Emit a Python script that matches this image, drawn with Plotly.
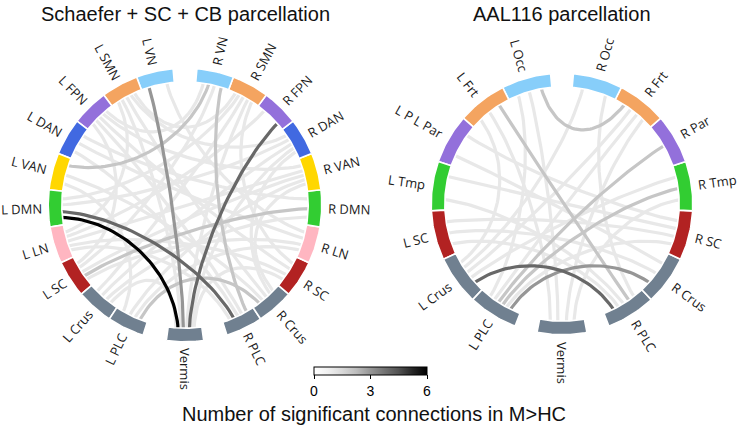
import math
import plotly.graph_objects as go

W, H = 744, 427

# ---------------- data ----------------
schaefer_nodes = ["L VN", "L SMN", "L FPN", "L DAN", "L VAN", "L DMN", "L LN", "L SC",
                  "L Crus", "L PLC", "Vermis", "R PLC", "R Crus", "R SC", "R LN",
                  "R DMN", "R VAN", "R DAN", "R FPN", "R SMN", "R VN"]
schaefer_from = ["L DMN", "L DMN", "R FPN", "L VN", "L VAN", "R VN", "R DMN", "L PLC",
                 "L SMN", "L SMN", "L SMN", "L SMN", "L FPN", "L FPN", "L FPN", "L DAN",
                 "L DAN", "L DAN", "L VAN", "L VAN", "L DMN", "L DMN", "L LN", "L LN",
                 "L LN", "L SC", "L SC", "L Crus", "L Crus", "L Crus", "L PLC", "L PLC",
                 "Vermis", "Vermis", "Vermis", "R PLC", "R PLC", "R Crus", "R SC", "R LN",
                 "R DMN", "R DAN", "R VAN", "R SMN", "R VN"]
schaefer_to = ["Vermis", "R PLC", "Vermis", "Vermis", "R VN", "R PLC", "L SC", "R Crus",
               "R DAN", "L LN", "R Crus", "R SMN", "R VAN", "R SC", "L SC", "R DMN",
               "R LN", "R PLC", "R Crus", "L PLC", "R DAN", "R SMN", "R FPN", "R VAN",
               "R SC", "R VN", "R LN", "R DAN", "R SMN", "Vermis", "R VAN", "R LN",
               "R DAN", "R SC", "L SMN", "L FPN", "L LN", "R VAN", "R SMN", "L VN",
               "L Crus", "R Crus", "L SC", "Vermis", "L FPN"]
schaefer_count = [6, 4, 4, 3, 2, 2, 2, 2,
                  1, 1, 1, 1, 1, 1, 1, 1,
                  1, 1, 1, 1, 1, 1, 1, 1,
                  1, 1, 1, 1, 1, 1, 1, 1,
                  1, 1, 1, 1, 1, 1, 1, 1,
                  1, 1, 1, 1, 1]

aal_nodes = ["L Occ", "L Frt", "L P L Par", "L Tmp", "L SC", "L Crus", "L PLC", "Vermis",
             "R PLC", "R Crus", "R SC", "R Tmp", "R Par", "R Frt", "R Occ"]
aal_from = ["L Crus", "L PLC", "L Occ", "L Frt", "R Par", "R Tmp",
            "L SC", "L SC", "L SC", "L Occ", "L Occ", "L Frt", "L Frt", "L P L Par",
            "L P L Par", "L Tmp", "L Tmp", "L Crus", "L PLC", "Vermis", "Vermis",
            "R Occ", "R Occ", "R Frt", "R Frt"]
aal_to = ["R PLC", "R Crus", "R Frt", "R PLC", "L PLC", "L PLC",
          "R SC", "R Crus", "R PLC", "Vermis", "L PLC", "Vermis", "L Crus", "R Crus",
          "R SC", "R SC", "R PLC", "R Tmp", "R SC", "R Frt", "R Tmp",
          "R PLC", "L Crus", "L PLC", "L Crus"]
aal_count = [4, 3, 2, 2, 2, 2,
             1, 1, 1, 1, 1, 1, 1, 1,
             1, 1, 1, 1, 1, 1, 1,
             1, 1, 1, 1]

cbar_min, cbar_max = 0, 6
cbar_ticks = [0, 3, 6]
title_left = "Schaefer + SC + CB parcellation"
title_right = "AAL116 parcellation"
title_bottom = "Number of significant connections in M>HC"

# ---------------- style ----------------
NET_COLORS = {"VN": "#87CEFA", "SMN": "#F4A460", "FPN": "#9370DB", "DAN": "#4169E1",
              "VAN": "#FFD700", "DMN": "#32CD32", "LN": "#FFB6C1", "SC": "#B22222",
              "Crus": "#708090", "PLC": "#708090", "Vermis": "#708090",
              "Occ": "#87CEFA", "Frt": "#F4A460", "Par": "#9370DB", "Tmp": "#32CD32"}
GREYS = [[0.0, "rgb(255,255,255)"], [0.125, "rgb(240,240,240)"], [0.25, "rgb(217,217,217)"],
         [0.375, "rgb(189,189,189)"], [0.5, "rgb(150,150,150)"], [0.625, "rgb(115,115,115)"],
         [0.75, "rgb(82,82,82)"], [0.875, "rgb(37,37,37)"], [1.0, "rgb(0,0,0)"]]
LABEL_FONT = "Open Sans"
LABEL_SIZE = 13
GAP = 10.0

# approximate Open Sans advance widths (em) for label placement
CW = {" ": 0.26, "A": 0.633, "B": 0.65, "C": 0.63, "D": 0.729, "F": 0.53, "H": 0.75,
      "L": 0.523, "M": 0.903, "N": 0.76, "O": 0.78, "P": 0.605, "R": 0.613, "S": 0.537,
      "T": 0.539, "V": 0.6, "a": 0.556, "c": 0.476, "e": 0.561, "i": 0.253, "m": 0.93,
      "p": 0.613, "r": 0.408, "s": 0.477, "t": 0.353, "u": 0.614}


def text_w(s, size):
    return sum(CW.get(ch, 0.6) for ch in s) * size


def interp_color(v):
    t = (v - cbar_min) / (cbar_max - cbar_min)
    t = min(max(t, 0), 1)
    for (t0, c0), (t1, c1) in zip(GREYS[:-1], GREYS[1:]):
        if t0 <= t <= t1:
            a = [int(x) for x in c0[4:-1].split(",")]
            b = [int(x) for x in c1[4:-1].split(",")]
            f = (t - t0) / (t1 - t0) if t1 > t0 else 0
            r = [round(a[k] + (b[k] - a[k]) * f) for k in range(3)]
            return "rgb(%d,%d,%d)" % tuple(r)
    return GREYS[-1][1]


def pos(cx, cy, a, r):
    ar = math.radians(a)
    return cx - r * math.sin(ar), cy - r * math.cos(ar)


fig = go.Figure()
annotations = []


def draw_circle(nodes, src, dst, cnt, cx, cy, r_out, r_in, label_r, gap_after):
    n = len(nodes)
    w = (360.0 - GAP * len(gap_after)) / n
    spans = {}
    cur = GAP / 2
    for nd in nodes:
        spans[nd] = (cur, cur + w)
        cur += w
        if nd in gap_after:
            cur += GAP
    center = {k: (v[0] + v[1]) / 2 for k, v in spans.items()}

    # endpoint spreading inside each node (ordered to avoid crossings)
    ends = {nd: [] for nd in nodes}
    for i, (s, d) in enumerate(zip(src, dst)):
        ends[s].append((((center[d] - center[s]) % 360), i, 0))
        ends[d].append((((center[s] - center[d]) % 360), i, 1))
    ang = {}
    for nd, lst in ends.items():
        lst.sort()
        k = len(lst)
        spread = 0.25 * w
        for j, (_, i, side) in enumerate(lst):
            off = 0.0 if k == 1 else spread - 2 * spread * j / (k - 1)
            ang[(i, side)] = center[nd] + off

    # chords grouped by count, weakest first
    for c in sorted(set(cnt)):
        xs, ys = [], []
        for i in range(len(src)):
            if cnt[i] != c:
                continue
            a0, a1 = ang[(i, 0)], ang[(i, 1)]
            p0 = pos(cx, cy, a0, r_out)
            p1 = pos(cx, cy, a0, r_out / 2)
            p2 = pos(cx, cy, a1, r_out / 2)
            p3 = pos(cx, cy, a1, r_out)
            m = 48
            for k in range(m + 1):
                t = k / m
                u = 1 - t
                xs.append(u**3 * p0[0] + 3 * u * u * t * p1[0] + 3 * u * t * t * p2[0] + t**3 * p3[0])
                ys.append(u**3 * p0[1] + 3 * u * u * t * p1[1] + 3 * u * t * t * p2[1] + t**3 * p3[1])
            xs.append(None)
            ys.append(None)
        fig.add_trace(go.Scatter(x=xs, y=ys, mode="lines",
                                 line=dict(color=interp_color(c), width=3.2),
                                 hoverinfo="skip", showlegend=False))

    # ring
    for nd in nodes:
        a0, a1 = spans[nd]
        m = 24
        xs, ys = [], []
        for k in range(m + 1):
            x, y = pos(cx, cy, a0 + (a1 - a0) * k / m, r_out)
            xs.append(x); ys.append(y)
        for k in range(m + 1):
            x, y = pos(cx, cy, a1 - (a1 - a0) * k / m, r_in)
            xs.append(x); ys.append(y)
        xs.append(xs[0]); ys.append(ys[0])
        col = NET_COLORS[nd.split()[-1]]
        fig.add_trace(go.Scatter(x=xs, y=ys, mode="lines", fill="toself",
                                 fillcolor=col, line=dict(color="white", width=1.6),
                                 hoverinfo="skip", showlegend=False))

        # label
        ac = center[nd]
        phi = 90 + ac
        ta = (-phi + 180) % 360 - 180
        if abs(ta) > 90:
            ta = (ta + 360) % 360 - 180
        tw = text_w(nd, LABEL_SIZE)
        lx, ly = pos(cx, cy, ac, label_r + tw / 2)
        annotations.append(dict(x=lx, y=ly, xref="x", yref="y", text=nd, showarrow=False,
                                textangle=ta, xanchor="center", yanchor="middle",
                                font=dict(family=LABEL_FONT, size=LABEL_SIZE, color="#1a1a1a")))


draw_circle(schaefer_nodes, schaefer_from, schaefer_to, schaefer_count,
            185, 205, 136.8, 123.2, 143, {"L PLC", "Vermis", "R VN"})
draw_circle(aal_nodes, aal_from, aal_to, aal_count,
            562, 204, 130.8, 117.2, 138, {"L PLC", "Vermis", "R Occ"})

# colorbar (dummy trace)
fig.add_trace(go.Scatter(
    x=[-50, -50], y=[-50, -50], mode="markers",
    marker=dict(size=1, color=[cbar_min, cbar_max], cmin=cbar_min, cmax=cbar_max,
                colorscale=GREYS, showscale=True,
                colorbar=dict(orientation="h", x=370.5 / W, xanchor="center",
                              y=1 - 367 / H, yanchor="top", len=113 / W, lenmode="fraction",
                              thickness=8, thicknessmode="pixels", xpad=0, ypad=0,
                              outlinewidth=1, outlinecolor="black",
                              tickvals=cbar_ticks, ticks="outside", ticklen=4,
                              tickcolor="black",
                              tickfont=dict(family="Liberation Sans, Arial", size=14, color="black"))),
    hoverinfo="skip", showlegend=False))

TF = dict(family="Liberation Sans, Arial", size=20, color="#111111")
annotations.append(dict(x=185, y=14, xref="x", yref="y", text=title_left, showarrow=False,
                        xanchor="center", yanchor="middle", font=TF))
annotations.append(dict(x=562, y=14, xref="x", yref="y", text=title_right, showarrow=False,
                        xanchor="center", yanchor="middle", font=TF))
annotations.append(dict(x=373.5, y=414, xref="x", yref="y", text=title_bottom, showarrow=False,
                        xanchor="center", yanchor="middle", font=TF))

fig.update_layout(
    width=W, height=H, margin=dict(l=0, r=0, t=0, b=0),
    xaxis=dict(range=[0, W], visible=False, fixedrange=True),
    yaxis=dict(range=[H, 0], visible=False, fixedrange=True),
    plot_bgcolor="white", paper_bgcolor="white", showlegend=False,
    annotations=annotations,
)
fig.write_html("out.html", config={"displayModeBar": False},
               post_script="document.body.style.margin='0px';document.body.style.overflow='hidden';")
